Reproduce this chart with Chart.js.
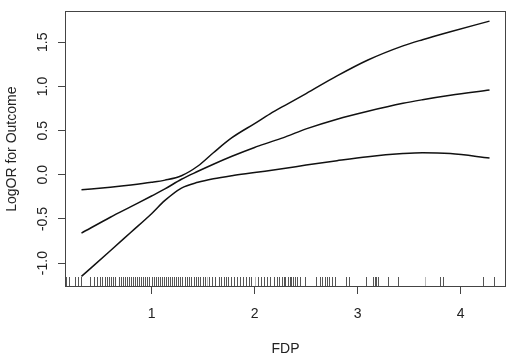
<!DOCTYPE html>
<html>
<head>
<meta charset="utf-8">
<script src="https://cdn.jsdelivr.net/npm/chart.js@4.4.1/dist/chart.umd.min.js"></script>
<style>
    html, body { margin: 0; padding: 0; background: #fff; }
    #wrap { width: 510px; height: 362px; position: relative; }
</style>
</head>
<body>
<div id="wrap"><canvas id="grafico"></canvas></div>
<script>
// FDP values where the fitted curves were evaluated
const fdp = [0.32, 0.6, 0.8, 1.0, 1.13, 1.29, 1.45, 1.6, 1.78, 2.0, 2.15, 2.3, 2.5, 2.8, 3.1, 3.44, 3.63, 3.9, 4.28];
// log OR estimate and its confidence band
const logOR = [-0.66, -0.48, -0.36, -0.24, -0.16, -0.05, 0.04, 0.12, 0.21, 0.31, 0.37, 0.43, 0.52, 0.63, 0.72, 0.81, 0.85, 0.90, 0.96];
const upperCI = [-0.17, -0.14, -0.115, -0.085, -0.06, -0.01, 0.10, 0.25, 0.42, 0.58, 0.69, 0.79, 0.92, 1.12, 1.30, 1.46, 1.53, 1.62, 1.74];
const lowerCI = [-1.15, -0.86, -0.65, -0.44, -0.29, -0.15, -0.085, -0.045, -0.01, 0.025, 0.05, 0.075, 0.11, 0.16, 0.205, 0.24, 0.25, 0.24, 0.19];

// observed FDP values (rug along the x axis)
const rugX = [0.17, 0.20, 0.26, 0.29, 0.32, 0.40, 0.44, 0.47, 0.50, 0.52, 0.55, 0.57, 0.59, 0.61, 0.63,
    0.65, 0.68, 0.70, 0.72, 0.74, 0.76, 0.78, 0.80, 0.82, 0.84, 0.86, 0.88, 0.90, 0.92, 0.94, 0.96, 0.98,
    1.00, 1.02, 1.04, 1.06, 1.08, 1.10, 1.12, 1.14, 1.16, 1.18, 1.20, 1.22, 1.24, 1.26, 1.28, 1.30, 1.32,
    1.34, 1.36, 1.38, 1.41, 1.43, 1.45, 1.47, 1.50, 1.52, 1.56, 1.59, 1.62, 1.65, 1.67, 1.70, 1.72, 1.74,
    1.77, 1.80, 1.83, 1.86, 1.89, 1.92, 1.95, 1.97, 2.03, 2.06, 2.09, 2.12, 2.15, 2.19, 2.22, 2.24, 2.27,
    2.29, 2.30, 2.32, 2.34, 2.35, 2.37, 2.39, 2.41, 2.44, 2.49, 2.60, 2.63, 2.65, 2.68, 2.70, 2.72, 2.75,
    2.78, 2.89, 2.92, 3.08, 3.15, 3.17, 3.18, 3.20, 3.29, 3.39, 3.80, 3.83, 4.22, 4.32];
const rugFaint = [1.54, 2.00, 3.65];

const xTicks = [1, 2, 3, 4];
const yTicks = [-1.0, -0.5, 0.0, 0.5, 1.0, 1.5];

const toPoints = ys => fdp.map((x, i) => ({ x: x, y: ys[i] }));

const fontBase = { family: "'Liberation Sans', Arial, sans-serif", size: 14 };

// Moldura em volta da área do gráfico, como no plot do R
const boxPlugin = {
    id: 'box',
    afterDraw(chart) {
        const { ctx, chartArea: a } = chart;
        ctx.save();
        ctx.strokeStyle = '#444';
        ctx.lineWidth = 1;
        ctx.strokeRect(Math.round(a.left) + 0.5, Math.round(a.top) + 0.5,
            Math.round(a.right - a.left) - 1, Math.round(a.bottom - a.top) - 1);
        ctx.restore();
    }
};

// Marcas do rug desenhadas pela escala x
const rugPlugin = {
    id: 'rug',
    afterDatasetsDraw(chart) {
        const { ctx, chartArea: a, scales: { x } } = chart;
        const draw = (values, color) => {
            ctx.strokeStyle = color;
            ctx.beginPath();
            values.forEach(v => {
                const px = Math.round(x.getPixelForValue(v)) + 0.5;
                ctx.moveTo(px, a.bottom);
                ctx.lineTo(px, a.bottom - 10);
            });
            ctx.stroke();
        };
        ctx.save();
        ctx.lineWidth = 1;
        draw(rugX, '#555');
        draw(rugFaint, '#bbb');
        ctx.restore();
    }
};

const lineStyle = {
    borderColor: '#111',
    borderWidth: 1.5,
    pointRadius: 0,
    fill: false,
    cubicInterpolationMode: 'monotone'
};

new Chart(document.getElementById('grafico').getContext('2d'), {
    type: 'line',
    data: {
        datasets: [
            { label: 'upper', data: toPoints(upperCI), ...lineStyle },
            { label: 'logOR', data: toPoints(logOR), ...lineStyle },
            { label: 'lower', data: toPoints(lowerCI), ...lineStyle }
        ]
    },
    options: {
        responsive: true,
        maintainAspectRatio: false,
        animation: false,
        layout: { padding: { top: 3, right: 4, left: 0, bottom: 0 } },
        plugins: { legend: { display: false }, tooltip: { enabled: false } },
        scales: {
            x: {
                type: 'linear',
                min: 0.16,
                max: 4.44,
                afterBuildTicks: scale => { scale.ticks = xTicks.map(v => ({ value: v })); },
                afterFit: scale => { scale.height = 75; },
                grid: { drawOnChartArea: false, drawTicks: true, tickLength: 7, tickColor: '#444' },
                border: { display: false },
                ticks: { color: '#222', font: fontBase, padding: 12, callback: v => String(v) },
                title: { display: true, text: 'FDP', color: '#222', font: fontBase, padding: { top: 0, bottom: 4 } }
            },
            y: {
                type: 'linear',
                min: -1.27,
                max: 1.85,
                afterBuildTicks: scale => { scale.ticks = yTicks.map(v => ({ value: v })); },
                afterFit: scale => { scale.width = 65; },
                grid: { drawOnChartArea: false, drawTicks: true, tickLength: 7, tickColor: '#444' },
                border: { display: false },
                ticks: {
                    color: '#222', font: fontBase, padding: 3,
                    minRotation: 90, maxRotation: 90, crossAlign: 'center',
                    callback: v => Number(v).toFixed(1)
                },
                title: { display: true, text: 'LogOR for Outcome', color: '#222', font: fontBase, padding: { top: 4, bottom: 0 } }
            }
        }
    },
    plugins: [boxPlugin, rugPlugin]
});
</script>
</body>
</html>
